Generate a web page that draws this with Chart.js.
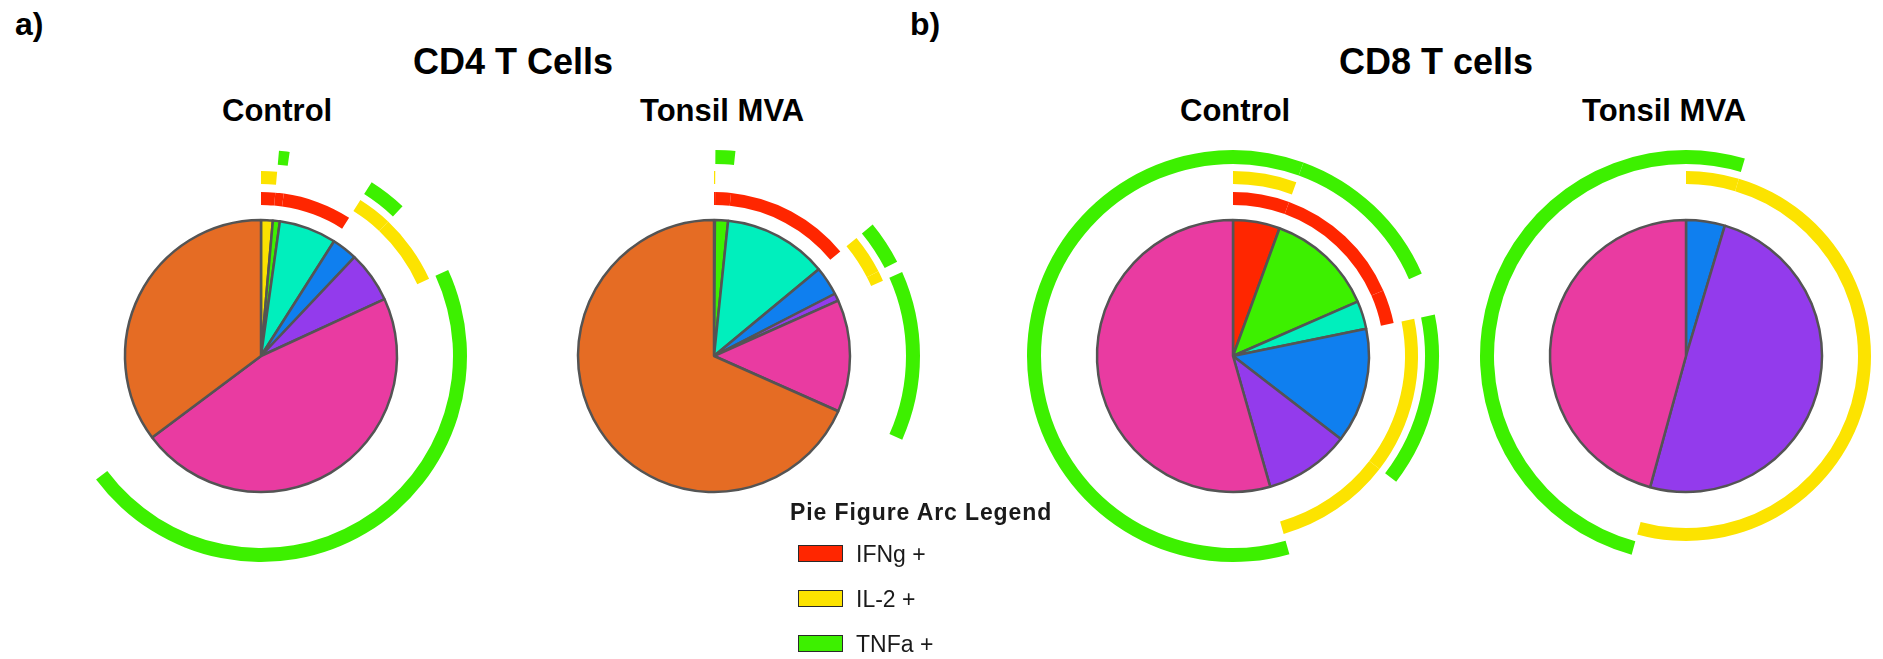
<!DOCTYPE html>
<html>
<head>
<meta charset="utf-8">
<title>Cytokine co-expression pies</title>
<script src="https://cdn.jsdelivr.net/npm/chart.js@4.4.1/dist/chart.umd.min.js"></script>
<style>
  html, body { margin: 0; padding: 0; background: #fff; }
  body { width: 1883px; height: 659px; overflow: hidden; position: relative;
         font-family: "Liberation Sans", Arial, Helvetica, sans-serif; }
  .t { position: absolute; white-space: nowrap; line-height: 1; font-weight: bold; color: #000; }
  .panel { font-size: 32px; }
  .group { font-size: 36px; }
  .sub { font-size: 31px; }
  .pie { position: absolute; width: 416px; height: 416px; }
  #legend { position: absolute; left: 0; top: 0; filter: blur(0.6px); color: #1a1a1a; }
  #legend .title { position: absolute; left: 790px; top: 501px; font-size: 23px; font-weight: bold;
                   letter-spacing: 0.9px; white-space: nowrap; line-height: 1; }
  #legend .item { position: absolute; left: 798px; height: 20px; white-space: nowrap; }
  #legend .box { position: absolute; left: 0; top: 0; width: 43px; height: 15px;
                 border: 1.5px solid #2a2a2a; }
  #legend .lab { position: absolute; left: 58px; top: -2px; font-size: 23px; line-height: 1; }
</style>
</head>
<body>
<div class="t panel" style="left:15px; top:8px;">a)</div>
<div class="t panel" style="left:910px; top:8px;">b)</div>
<div class="t group" style="left:413px; top:44px;">CD4 T Cells</div>
<div class="t group" style="left:1339px; top:44px;">CD8 T cells</div>
<div class="t sub" style="left:222px; top:95px;">Control</div>
<div class="t sub" style="left:640px; top:95px;">Tonsil MVA</div>
<div class="t sub" style="left:1180px; top:95px;">Control</div>
<div class="t sub" style="left:1582px; top:95px;">Tonsil MVA</div>

<canvas id="cd4Control" class="pie" width="416" height="416" style="left:53px; top:148px;"></canvas>
<canvas id="cd4Tonsil" class="pie" width="416" height="416" style="left:506px; top:148px;"></canvas>
<canvas id="cd8Control" class="pie" width="416" height="416" style="left:1025px; top:148px;"></canvas>
<canvas id="cd8Tonsil" class="pie" width="416" height="416" style="left:1478px; top:148px;"></canvas>

<div id="legend"></div>

<script>
// Cytokine combination categories (pie slices), in drawing order from 12 o'clock
const categories = [
  'IFNg+ IL-2+ TNFa+',
  'IFNg+ IL-2+',
  'IFNg+ TNFa+',
  'IFNg+',
  'IL-2+ TNFa+',
  'IL-2+',
  'TNFa+',
  'IFNg- IL-2- TNFa-'
];

// Share of responding cells (%) per category
const cd4Control = [0, 1.39, 0.83, 6.80, 3.03, 6.08, 46.60, 35.20];
const cd4Tonsil  = [0, 0.11, 1.55, 12.33, 3.44, 0.89, 13.33, 68.33];
const cd8Control = [5.56, 0, 12.89, 3.33, 13.67, 10.14, 54.42, 0];
const cd8Tonsil  = [0, 0, 0, 0, 4.61, 49.64, 45.75, 0];

// Which categories are positive for each cytokine (drawn as outer arcs)
const ifngPositive = [1, 1, 1, 1, 0, 0, 0, 0];
const il2Positive  = [1, 1, 0, 0, 1, 1, 0, 0];
const tnfaPositive = [1, 0, 1, 0, 1, 0, 1, 0];

const legendLabels = ['IFNg +', 'IL-2 +', 'TNFa +'];

const sliceColors = ['#FF2600', '#FAE100', '#3DF000', '#00EFBD', '#0F7FEF', '#933BEC', '#E93BA1', '#E56C24'];
const arcColors = { ifng: '#FF2600', il2: '#FCE300', tnfa: '#3DF000' };
const clear = 'rgba(0,0,0,0)';

function ringDataset(values, positive, color, weight) {
  return {
    data: values,
    weight: weight,
    backgroundColor: positive.map(p => (p ? color : clear)),
    borderWidth: 0
  };
}

function gapDataset(weight) {
  return { data: [1], weight: weight, backgroundColor: [clear], borderWidth: 0 };
}

function drawPie(id, values) {
  new Chart(document.getElementById(id), {
    type: 'pie',
    data: {
      labels: categories,
      datasets: [
        ringDataset(values, tnfaPositive, arcColors.tnfa, 14),
        gapDataset(7),
        ringDataset(values, il2Positive, arcColors.il2, 13),
        gapDataset(8),
        ringDataset(values, ifngPositive, arcColors.ifng, 13),
        gapDataset(15),
        {
          data: values,
          weight: 136,
          backgroundColor: sliceColors,
          borderColor: '#545454',
          borderWidth: 2.5
        }
      ]
    },
    options: {
      responsive: false,
      animation: false,
      events: [],
      radius: 206,
      cutout: 0,
      layout: { padding: 0 },
      plugins: { legend: { display: false }, tooltip: { enabled: false } }
    }
  });
}

drawPie('cd4Control', cd4Control);
drawPie('cd4Tonsil', cd4Tonsil);
drawPie('cd8Control', cd8Control);
drawPie('cd8Tonsil', cd8Tonsil);

// Arc legend
const legend = document.getElementById('legend');
const title = document.createElement('div');
title.className = 'title';
title.textContent = 'Pie Figure Arc Legend';
legend.appendChild(title);
const legendColors = [arcColors.ifng, arcColors.il2, arcColors.tnfa];
legendLabels.forEach((label, i) => {
  const item = document.createElement('div');
  item.className = 'item';
  item.style.top = (545 + i * 45) + 'px';
  const box = document.createElement('div');
  box.className = 'box';
  box.style.background = legendColors[i];
  const lab = document.createElement('div');
  lab.className = 'lab';
  lab.textContent = label;
  item.appendChild(box);
  item.appendChild(lab);
  legend.appendChild(item);
});
</script>
</body>
</html>
